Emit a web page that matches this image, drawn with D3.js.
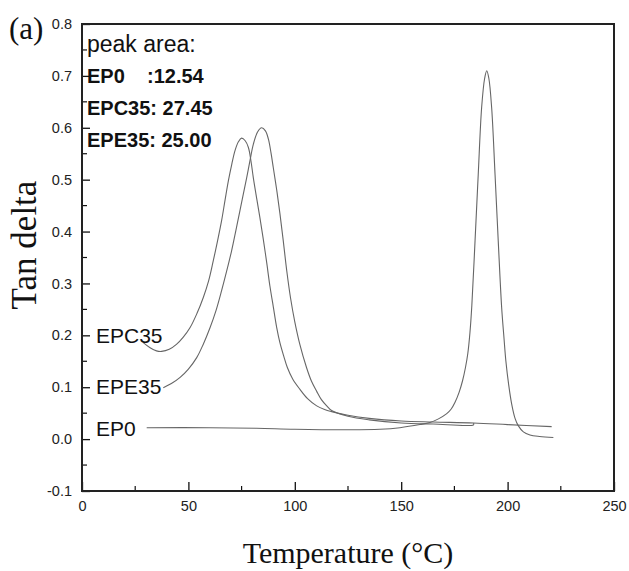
<!DOCTYPE html>
<html>
<head>
<meta charset="utf-8">
<script src="https://cdn.jsdelivr.net/npm/d3@7"></script>
<style>
  html, body { margin: 0; padding: 0; background: #fff; }
  svg { display: block; }
</style>
</head>
<body>
<svg id="chart" width="629" height="571"></svg>
<script>
// ---- data (temperature °C, tan delta) ----
const xTicks = [0, 50, 100, 150, 200, 250];
const yTicks = [-0.1, 0.0, 0.1, 0.2, 0.3, 0.4, 0.5, 0.6, 0.7, 0.8];
const seriesNames = ["EPC35", "EPE35", "EP0"];
const peakAreaLines = ["EP0    :12.54", "EPC35: 27.45", "EPE35: 25.00"];

const epc35 = [
  [28.8,0.186],[32,0.176],[35,0.170],[37.4,0.169],[41,0.173],[44.5,0.183],[47.5,0.196],[50.8,0.215],
  [54,0.242],[57,0.273],[59.5,0.305],[61.7,0.344],[63.7,0.382],[65.6,0.421],[67.2,0.460],[68.8,0.498],
  [70.4,0.530],[71.9,0.556],[73.5,0.573],[75,0.580],[76.7,0.575],[78.2,0.562],[79.4,0.536],[80.5,0.504],
  [82,0.466],[83.6,0.427],[85.2,0.385],[86.8,0.340],[88.3,0.295],[89.9,0.255],[91.5,0.215],[93,0.186],
  [94.8,0.160],[96.5,0.138],[99,0.116],[102.4,0.096],[106,0.078],[110.3,0.064],[114,0.057],[117.3,0.053],
  [125,0.046],[135,0.040],[150,0.035],[165,0.033],[184,0.031],[200,0.028],[220.7,0.024]
];
const epe35 = [
  [38.2,0.099],[42,0.107],[46.1,0.119],[50,0.135],[53.9,0.157],[57,0.183],[60.2,0.215],[63,0.248],
  [65.6,0.286],[68,0.324],[70.3,0.363],[72.3,0.402],[74.2,0.440],[75.8,0.472],[77.4,0.504],[79,0.538],
  [80.5,0.568],[82.5,0.592],[84.4,0.600],[86.2,0.594],[87.6,0.578],[88.8,0.552],[89.9,0.523],[91.5,0.480],
  [93,0.435],[94.5,0.385],[96.2,0.325],[98,0.272],[100,0.226],[102.4,0.182],[105.5,0.138],[107.8,0.112],
  [110.3,0.092],[112.5,0.076],[115,0.064],[117.3,0.055],[125,0.044],[135,0.037],[150,0.031],[165,0.029],
  [184,0.0276],[184,0.031]
];
const ep0 = [
  [30.4,0.022],[60,0.022],[82,0.021],[100,0.019],[126,0.018],[140,0.019],[149.4,0.022],[158.8,0.028],
  [163.5,0.032],[167.5,0.039],[171.4,0.049],[173.5,0.058],[175.3,0.071],[177.2,0.090],[178.8,0.112],
  [180.2,0.138],[181.3,0.165],[182.3,0.205],[183.2,0.258],[184.7,0.382],[186.2,0.510],[187.8,0.639],
  [189.2,0.695],[190.2,0.710],[191.2,0.695],[192.5,0.639],[194.1,0.510],[195.6,0.382],[197.2,0.254],
  [198.3,0.195],[199.2,0.150],[200.5,0.105],[201.9,0.068],[203.5,0.040],[205,0.026],[207.4,0.014],
  [210.5,0.008],[215,0.005],[221.5,0.003]
];
const seriesData = [epc35, epe35, ep0];

// ---- layout ----
const svg = d3.select("#chart");
const x = d3.scaleLinear().domain([0, 250]).range([82, 614]);
const y = d3.scaleLinear().domain([-0.1, 0.8]).range([491, 24]);
const sans = "'Liberation Sans', Arial, sans-serif";
const serif = "'Liberation Serif', 'Times New Roman', serif";

// minor ticks
const xMinor = d3.range(25, 250, 50);
const yMinor = d3.range(-0.05, 0.8, 0.1);

svg.append("g").selectAll("line").data(xMinor).join("line")
  .attr("x1", d => x(d)).attr("x2", d => x(d))
  .attr("y1", 491).attr("y2", 486)
  .attr("stroke", "#111").attr("stroke-width", 1.2);
svg.append("g").selectAll("line").data(yMinor).join("line")
  .attr("x1", 82).attr("x2", 87)
  .attr("y1", d => y(d)).attr("y2", d => y(d))
  .attr("stroke", "#111").attr("stroke-width", 1.2);

// axes
const fmtY = d => d3.format(".1f")(d).replace("\u2212", "-");
const xAxis = d3.axisBottom(x).tickValues(xTicks).tickSizeInner(-9).tickSizeOuter(0).tickPadding(10).tickFormat(d3.format("d"));
const yAxis = d3.axisLeft(y).tickValues(yTicks).tickSizeInner(-8).tickSizeOuter(0).tickPadding(10).tickFormat(fmtY);

const gx = svg.append("g").attr("transform", "translate(0,491)").call(xAxis);
const gy = svg.append("g").attr("transform", "translate(82,0)").call(yAxis);
[gx, gy].forEach(g => {
  g.select(".domain").remove();
  g.selectAll(".tick line").attr("stroke", "#111").attr("stroke-width", 1.3);
  g.selectAll(".tick text").attr("fill", "#222").style("font-family", sans).style("font-size", "14.5px");
});

// frame
svg.append("rect").attr("x", 82).attr("y", 24).attr("width", 532).attr("height", 467)
  .attr("fill", "none").attr("stroke", "#222").attr("stroke-width", 2);

// curves
const line = d3.line().x(d => x(d[0])).y(d => y(d[1])).curve(d3.curveCatmullRom.alpha(0.5));
svg.append("g").selectAll("path").data(seriesData).join("path")
  .attr("d", line).attr("fill", "none").attr("stroke", "#666").attr("stroke-width", 1.1);

// series labels
const labelY = [0.185, 0.087, 0.0065];
svg.append("g").selectAll("text").data(seriesNames).join("text")
  .attr("x", 96).attr("y", (d, i) => y(labelY[i]))
  .style("font-family", sans).style("font-size", "21px").attr("fill", "#111")
  .text(d => d);

// peak area annotation
svg.append("text").attr("x", 87).attr("y", 52)
  .style("font-family", sans).style("font-size", "23px").attr("fill", "#111").text("peak area:");
svg.append("g").selectAll("text").data(peakAreaLines).join("text")
  .attr("x", 87).attr("y", (d, i) => 83 + i * 32)
  .attr("xml:space", "preserve")
  .style("white-space", "pre")
  .style("font-family", sans).style("font-size", "20px").style("font-weight", "bold").attr("fill", "#111")
  .text(d => d);

// panel label and axis titles
svg.append("text").attr("x", 9).attr("y", 39)
  .style("font-family", serif).style("font-size", "31px").attr("fill", "#111").text("(a)");
svg.append("text").attr("transform", "translate(36,245) rotate(-90)").attr("text-anchor", "middle")
  .style("font-family", serif).style("font-size", "35px").attr("fill", "#111").text("Tan delta");
svg.append("text").attr("x", 348).attr("y", 563).attr("text-anchor", "middle")
  .style("font-family", serif).style("font-size", "30px").attr("fill", "#111").text("Temperature (°C)");
</script>
</body>
</html>
